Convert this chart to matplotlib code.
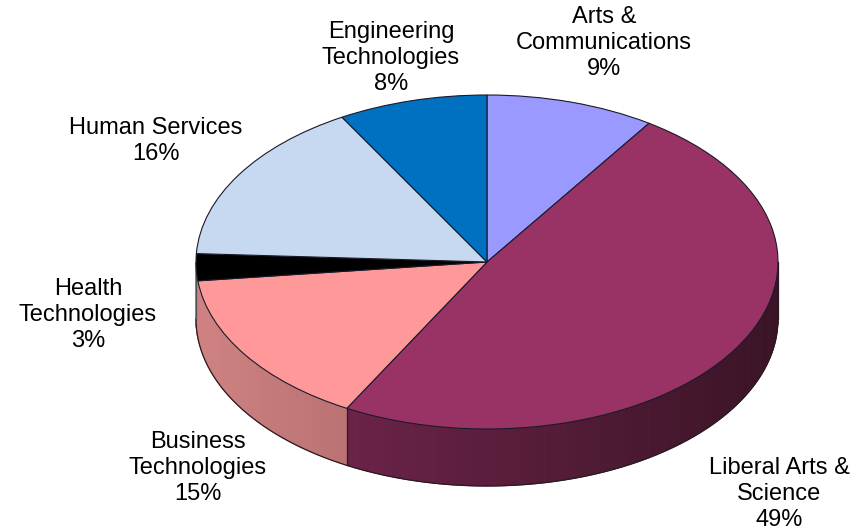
import matplotlib
matplotlib.use("Agg")
import matplotlib.pyplot as plt
import numpy as np

labels = ["Arts &\nCommunications", "Liberal Arts &\nScience", "Business\nTechnologies",
          "Health\nTechnologies", "Human Services", "Engineering\nTechnologies"]
values = [9.4, 48.6, 15.2, 2.6, 15.9, 8.3]
colors = ["#9999ff", "#993366", "#ff9999", "#000000", "#c6d9f1", "#0070c0"]

# label centres in pixels of the 865x532 picture
label_x = [604, 779, 198, 88, 156, 391]
label_y = [43, 494, 468, 315, 141, 58]

# wall shades, left and right end of each visible wall
wall_left = {1: "#6b2347", 2: "#cf8282", 3: "#b87878"}
wall_right = {1: "#3a1426", 2: "#bb7272", 3: "#cf8282"}

W, H = 865, 532
cx, cy = 487, 262
rx, ry = 291, 167
depth = 57 / ry

plt.rcParams["font.family"] = ["Liberation Sans", "DejaVu Sans"]

fig = plt.figure(figsize=(W / 100, H / 100), dpi=100)
ax = fig.add_axes([0, 0, 1, 1])


def to_rgb(c):
    return np.array(matplotlib.colors.to_rgb(c))


# walls first, the top of the pie goes over them
edges = 90 - np.cumsum([0] + values) * 3.6
for i in wall_left:
    # only the part in the lower half of the ellipse can be seen
    lo, hi = max(edges[i + 1], -180), min(edges[i], 0)
    steps = np.linspace(lo, hi, 60)
    x_lo, x_hi = np.cos(np.radians(lo)), np.cos(np.radians(hi))
    for j in range(len(steps) - 1):
        t0, t1 = np.radians(steps[j]), np.radians(steps[j + 1])
        f = (np.cos((t0 + t1) / 2) - x_lo) / (x_hi - x_lo)
        col = to_rgb(wall_left[i]) * (1 - f) + to_rgb(wall_right[i]) * f
        xs = [np.cos(t0), np.cos(t1), np.cos(t1), np.cos(t0)]
        ys = [np.sin(t0), np.sin(t1), np.sin(t1) - depth, np.sin(t0) - depth]
        # edge in the same colour hides the seams between the strips
        ax.fill(xs, ys, facecolor=col, edgecolor=col, lw=0.7, zorder=1)

# outline of the wall
line_col = "#2a1a22"
t = np.radians(np.linspace(-180, 0, 300))
ax.plot(np.cos(t), np.sin(t) - depth, color=line_col, lw=0.9, zorder=2)
ax.plot([-1, -1], [0, -depth], color="#555055", lw=0.9, zorder=2)
ax.plot([1, 1], [0, -depth], color=line_col, lw=0.9, zorder=2)
t_cut = np.radians(edges[2])
ax.plot([np.cos(t_cut)] * 2, [np.sin(t_cut), np.sin(t_cut) - depth], color=line_col, lw=0.9, zorder=2)

wedges, _ = ax.pie(values, colors=colors, startangle=90, counterclock=False, radius=1,
                   wedgeprops={"edgecolor": "#1a1a2a", "linewidth": 0.8, "zorder": 3})

ax.set_aspect("auto")
ax.set_xlim(-cx / rx, (W - cx) / rx)
ax.set_ylim((cy - H) / ry, cy / ry)
ax.axis("off")

for name, val, x, y in zip(labels, values, label_x, label_y):
    ax.text((x - cx) / rx, (cy - y) / ry, f"{name}\n{round(val)}%", ha="center", va="center",
            fontsize=17, color="black", linespacing=1.25, zorder=5)

fig.savefig("out.png", dpi=100)
